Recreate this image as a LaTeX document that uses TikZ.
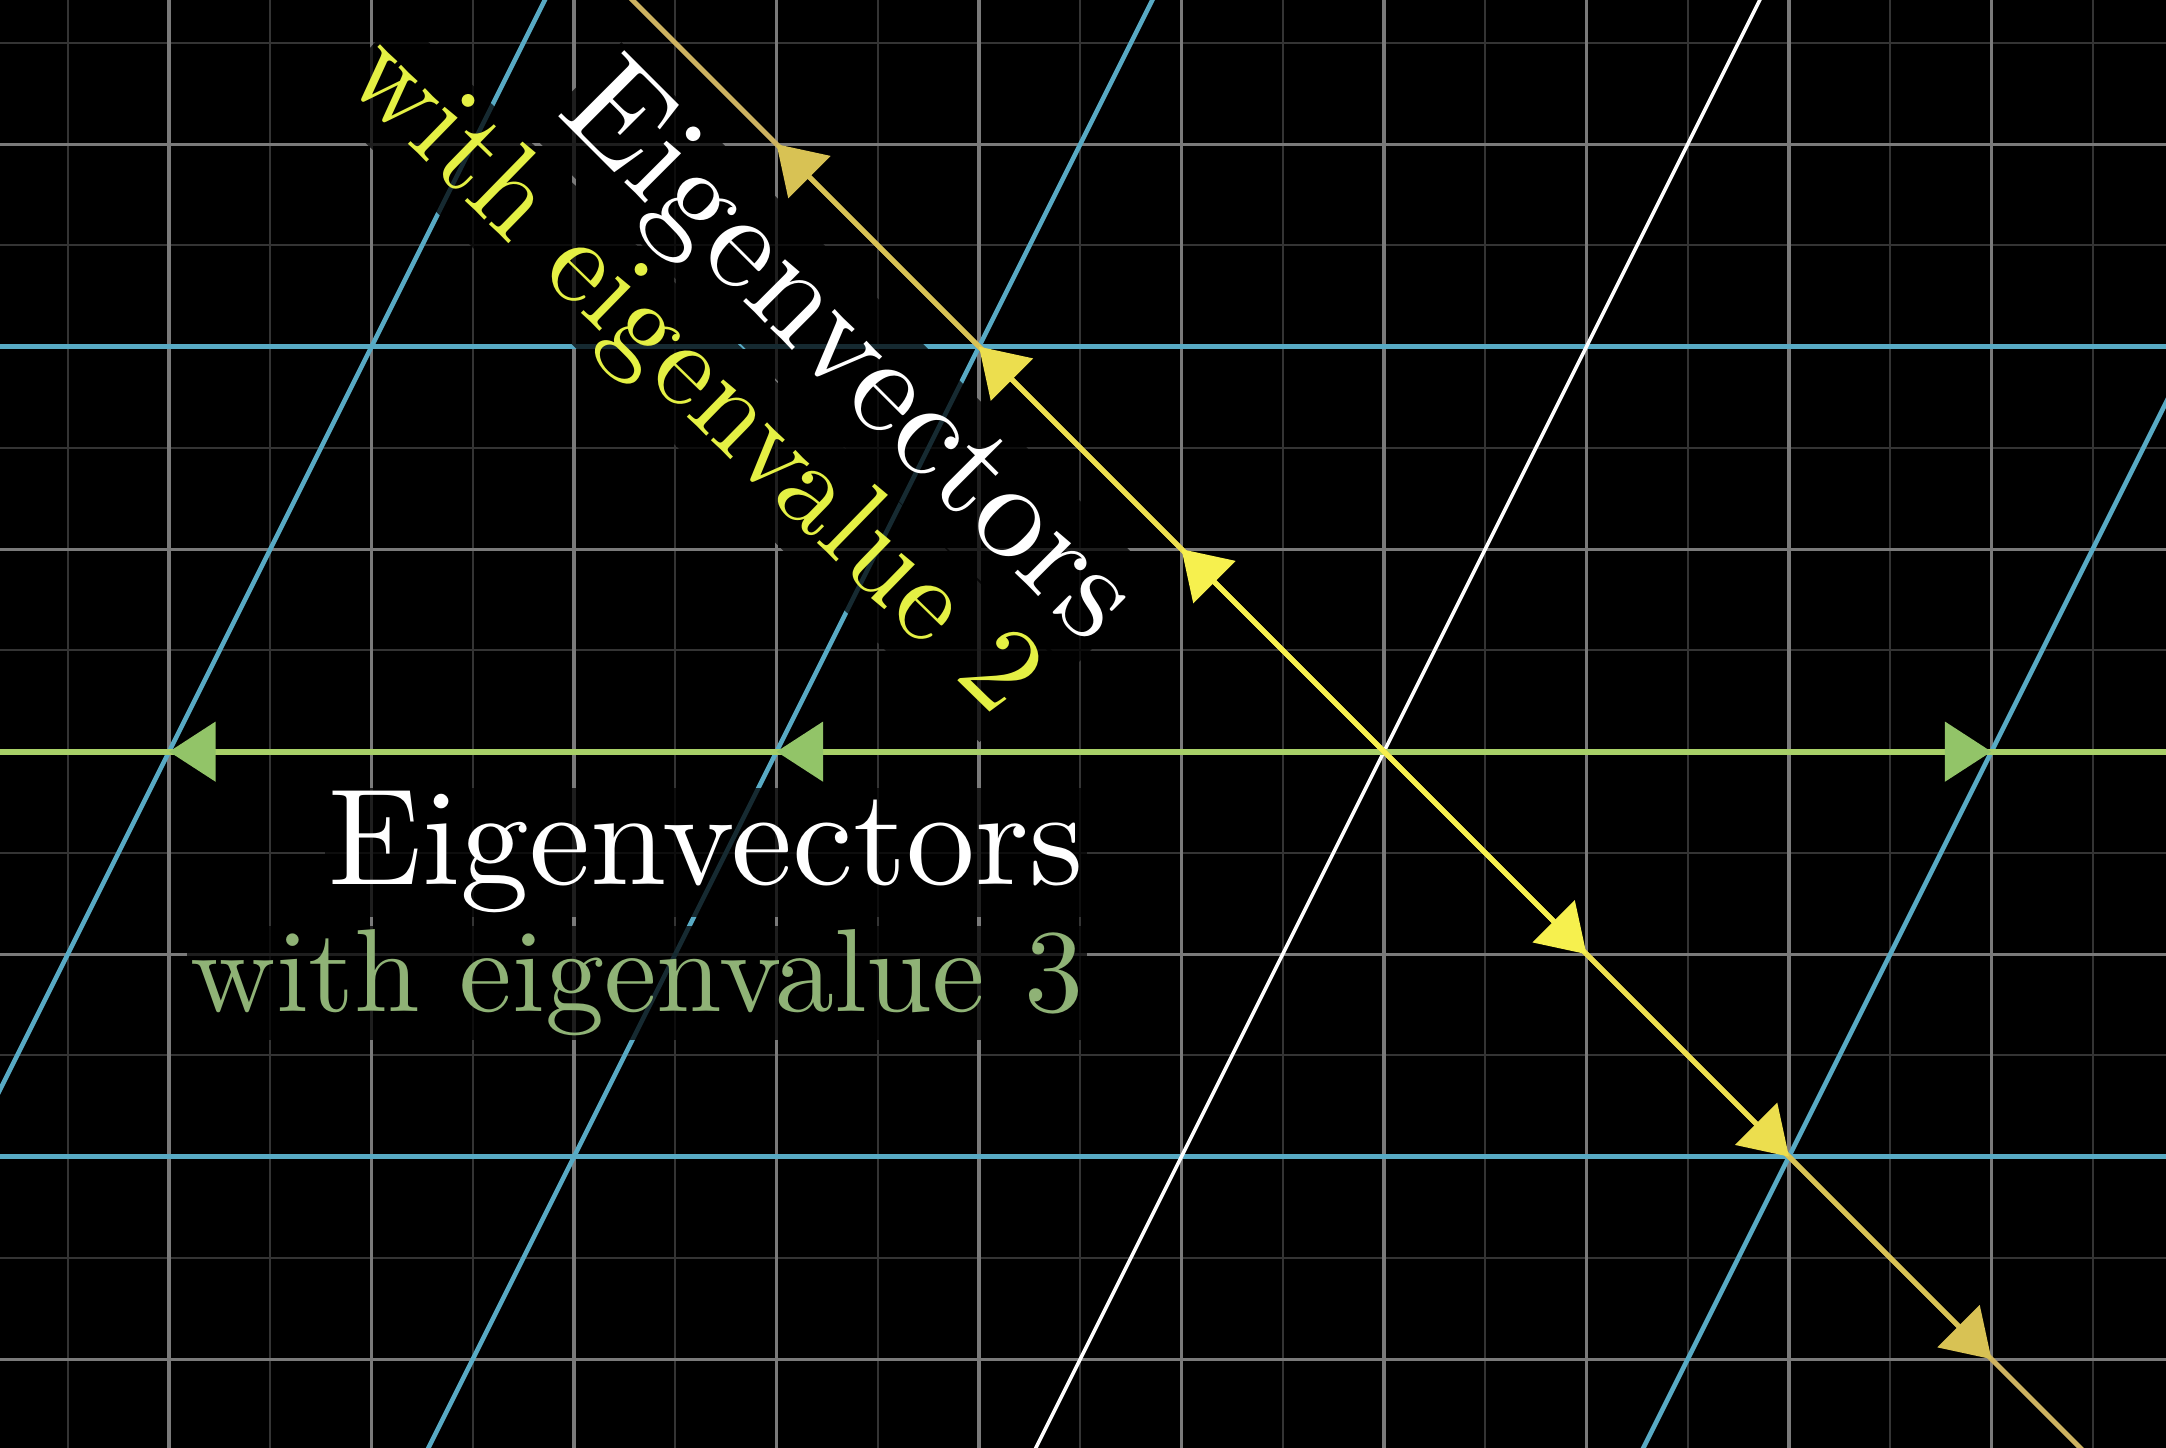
\documentclass[tikz,border=0pt]{standalone}
\usepackage{fontspec}
\usetikzlibrary{arrows.meta}
\usetikzlibrary{positioning}

\newfontfamily\cmfont{lmroman10-regular.otf}

\definecolor{gridmajor}{RGB}{122,122,122}
\definecolor{gridminor}{RGB}{52,52,52}
\definecolor{tblue}{RGB}{88,170,196}
\definecolor{espan}{RGB}{168,208,104}
\definecolor{ehead}{RGB}{146,196,104}
\definecolor{etext}{RGB}{143,178,118}
\definecolor{yspan}{RGB}{205,178,96}
\definecolor{yone}{RGB}{246,240,78}
\definecolor{ytwo}{RGB}{236,222,78}
\definecolor{ythree}{RGB}{216,194,84}
\definecolor{ytext}{RGB}{228,240,68}

\tikzset{
  majorline/.style={gridmajor, line width=0.45pt},
  minorline/.style={gridminor, line width=0.3pt},
  tline/.style={tblue, line width=0.65pt},
  gvec/.style={espan, line width=0.85pt, -{Triangle[length=0.23cm, width=0.29cm, color=ehead]}},
  yvec/.style={line width=0.7pt, -{Triangle[length=0.23cm, width=0.29cm]}},
  textbg/.style={fill=black, fill opacity=0.75, text opacity=1, inner sep=0.5pt},
  bigtext/.style={font=\cmfont\fontsize{19.3}{23}\selectfont},
}

\begin{document}
\begin{tikzpicture}
  % 背景
  \useasboundingbox (-6.835,-3.438) rectangle (3.862,3.712);
  \fill[black] (-6.835,-3.438) rectangle (3.862,3.712);
  \clip (-6.835,-3.438) rectangle (3.862,3.712);

  % 格子
  \draw[minorline, step=0.5] (-7.5,-4) grid (4.5,4);
  \draw[majorline, step=1] (-7,-4) grid (4,4);

  % 変換後の格子
  \draw[tline] (-7,2) -- (4,2);
  \draw[tline] (-7,-2) -- (4,-2);
  \foreach \k in {-2,-1,1}
    \draw[tline] ({3*\k-2},-4) -- ({3*\k+2},4);
  \draw[white, line width=0.5pt] (-2,-4) -- (2,4);

  % 固有値3の固有ベクトル
  \coordinate (O) at (0,0);
  \coordinate (g1) at (-6,0);
  \coordinate (g2) at (-3,0);
  \coordinate (g3) at (3,0);
  \draw[espan, line width=0.85pt] (-7,0) -- (4,0);
  \draw[gvec] (O) -- (g1);
  \draw[gvec] (O) -- (g2);
  \draw[gvec] (O) -- (g3);

  % 固有値2の固有ベクトル
  \coordinate (ya) at (-3,3);
  \coordinate (yb) at (-2,2);
  \coordinate (yc) at (-1,1);
  \coordinate (yd) at (1,-1);
  \coordinate (ye) at (2,-2);
  \coordinate (yf) at (3,-3);
  \draw[yspan, line width=0.7pt] (-4,4) -- (4,-4);
  \draw[yvec, ythree] (O) -- (ya);
  \draw[yvec, ythree] (O) -- (yf);
  \draw[yvec, ytwo] (O) -- (yb);
  \draw[yvec, ytwo] (O) -- (ye);
  \draw[yvec, yone] (O) -- (yc);
  \draw[yvec, yone] (O) -- (yd);

  % ラベル
  \node[textbg, text=white, bigtext, anchor=base east] (t3) at (-1.46,-0.658) {Eigenvectors};
  \node[textbg, text=etext, font=\cmfont\fontsize{16.6}{20}\selectfont, anchor=base east] (s3) at (-1.46,-1.285) {with eigenvalue 3};
  \node[textbg, text=white, bigtext, rotate=-45, anchor=base west] (t2) at (-4.11,3.17) {Eigenvectors};
  \node[textbg, text=ytext, font=\cmfont\fontsize{17}{20}\selectfont, rotate=-44.3, anchor=base west] (s2) at (-5.16,3.33) {with eigenvalue 2};
\end{tikzpicture}
\end{document}
